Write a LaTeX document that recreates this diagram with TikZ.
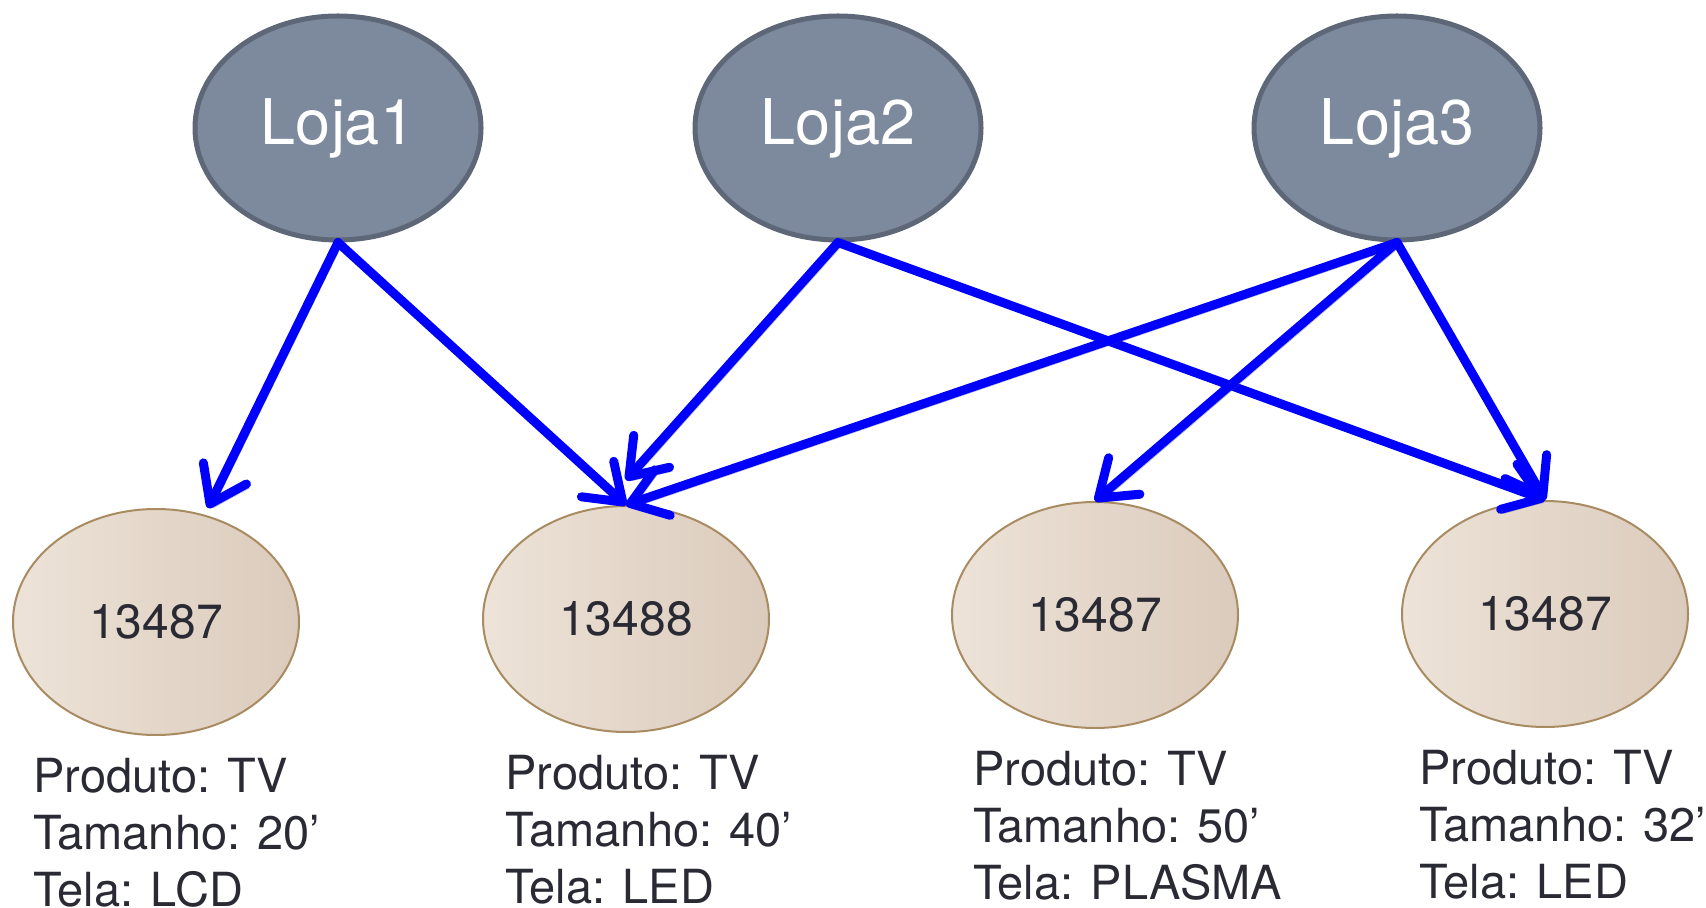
\documentclass[tikz,border=0pt]{standalone}
\usepackage{fontspec}
\setmainfont{TeX Gyre Heros}
\usetikzlibrary{positioning}
\usetikzlibrary{calc}
\usetikzlibrary{arrows.meta}
\usetikzlibrary{shapes.geometric}
\definecolor{lojafill}{RGB}{125,138,157}
\definecolor{lojaline}{RGB}{93,103,120}
\definecolor{prodleft}{RGB}{237,227,216}
\definecolor{prodright}{RGB}{219,203,188}
\definecolor{prodline}{RGB}{169,139,98}
\definecolor{ink}{RGB}{42,42,52}
\definecolor{linkblue}{RGB}{0,0,255}

\tikzset{
    loja/.style={ellipse, draw=lojaline, fill=lojafill, line width=2.5pt,
        minimum width=143pt, minimum height=112pt, inner sep=0pt,
        text=white, font=\fontsize{31.5}{36}\selectfont},
    produto/.style={ellipse, draw=prodline, line width=1pt,
        left color=prodleft, right color=prodright,
        minimum width=143pt, minimum height=113pt, inner sep=0pt,
        text=ink, font=\fontsize{24}{28}\selectfont},
    info/.style={align=left, inner sep=0pt, text=ink,
        font=\fontsize{23.5}{28.5}\selectfont},
    link/.style={draw=linkblue, line width=4.5pt, line cap=round, line join=round,
        -{Straight Barb[length=17pt, width=24pt, line cap=round, line join=round]},
        preaction={draw=black!70, opacity=0.35, transform canvas={shift={(1.5pt,-2pt)}}}}
}

\begin{document}
\begin{tikzpicture}[x=0.5pt, y=-0.5pt]
    \useasboundingbox (0,0) rectangle (1706,908);

    % lojas
    \node[loja] (l1) at (338,128) {Loja1};
    \node[loja] (l2) at (838,128) {Loja2};
    \node[loja] (l3) at (1397,128) {Loja3};

    % produtos
    \node[produto] (p1) at (156,622) {13487};
    \node[produto] (p2) at (626,619) {13488};
    \node[produto] (p3) at (1095,615) {13487};
    \node[produto] (p4) at (1545,614) {13487};

    \node[info, below right=11pt and -61.5pt of p1.south] (i1) {Produto: TV\\Tamanho: 20’\\Tela: LCD};
    \node[info, below right=11pt and -60.5pt of p2.south] (i2) {Produto: TV\\Tamanho: 40’\\Tela: LED};
    \node[info, below right=11pt and -61pt of p3.south] (i3) {Produto: TV\\Tamanho: 50’\\Tela: PLASMA};
    \node[info, below right=11pt and -63pt of p4.south] (i4) {Produto: TV\\Tamanho: 32’\\Tela: LED};

    % ligacoes
    \draw[link] (l1.south) -- ([xshift=26pt]p1.north);
    \draw[link] (l1.south) -- (p2.north);
    \draw[link] (l2.south) -- ([yshift=12.5pt]p2.north);
    \draw[link] (l2.south) -- (p4.north);
    \draw[link] (l3.south) -- (p2.north);
    \draw[link] (l3.south) -- (p3.north);
    \draw[link] (l3.south) -- (p4.north);
\end{tikzpicture}
\end{document}
